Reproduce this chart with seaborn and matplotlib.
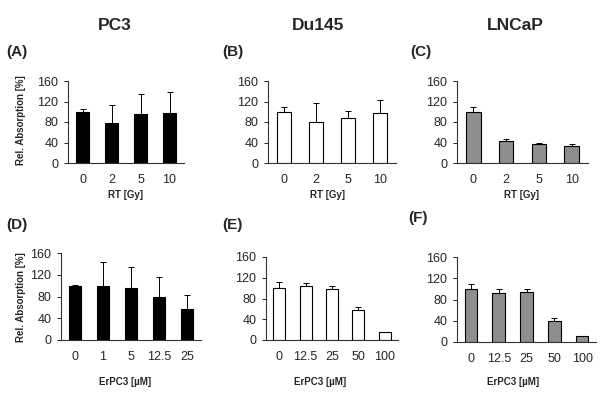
import numpy as np
import pandas as pd
import matplotlib
matplotlib.use("Agg")
import matplotlib.pyplot as plt
import seaborn as sns

sns.set_style("white")
plt.rcParams['font.family'] = ['Liberation Sans', 'DejaVu Sans']

# data (bar height and upper error)
rt_doses = ["0", "2", "5", "10"]
pc3_rt = [100, 78, 95, 97]
pc3_rt_err = [6, 35, 39, 42]
du145_rt = [100, 80, 88, 97]
du145_rt_err = [10, 37, 14, 26]
lncap_rt = [100, 43, 38, 34]
lncap_rt_err = [9, 3, 2, 4]

pc3_conc = ["0", "1", "5", "12.5", "25"]
pc3_er = [100, 100, 95, 80, 57]
pc3_er_err = [2, 43, 40, 36, 25]
conc = ["0", "12.5", "25", "50", "100"]
du145_er = [100, 105, 98, 57, 15]
du145_er_err = [11, 4, 6, 7, 0]
lncap_er = [100, 93, 95, 40, 12]
lncap_er_err = [10, 7, 4, 6, 0]

cell_lines = ["PC3", "Du145", "LNCaP"]
panel_tags = ["(A)", "(B)", "(C)", "(D)", "(E)", "(F)"]
colors = ["black", "white", "#8e8e8e"]

W, H = 600, 405
fig = plt.figure(figsize=(6, 4.05), dpi=100)

def box(x0, x1, ytop, ybot):
    return [x0 / W, 1 - ybot / H, (x1 - x0) / W, (ybot - ytop) / H]

panels = [
    (box(68, 184, 81, 163), rt_doses, pc3_rt, pc3_rt_err, 0),
    (box(268, 396, 81, 163), rt_doses, du145_rt, du145_rt_err, 1),
    (box(457, 588, 81, 163), rt_doses, lncap_rt, lncap_rt_err, 2),
    (box(61, 201, 253, 340), pc3_conc, pc3_er, pc3_er_err, 0),
    (box(266, 398, 257, 340), conc, du145_er, du145_er_err, 1),
    (box(457, 596, 257, 342), conc, lncap_er, lncap_er_err, 2),
]

for rect, cats, vals, errs, ci in panels:
    ax = fig.add_axes(rect)
    df = pd.DataFrame({"cat": cats, "val": vals})
    sns.barplot(data=df, x="cat", y="val", ax=ax, color=colors[ci],
                edgecolor="black", linewidth=0.8, width=0.45, saturation=1)
    xs = np.arange(len(cats))
    ax.errorbar(xs, vals, yerr=[np.zeros(len(errs)), errs], fmt="none",
                ecolor="black", elinewidth=0.7, capsize=2, capthick=0.7)
    ax.set_ylim(0, 160)
    ax.set_xlim(-0.5, len(cats) - 0.5)
    ax.set_yticks([0, 40, 80, 120, 160])
    ax.set_xticks(np.arange(len(cats) + 1) - 0.5, minor=True)
    ax.tick_params(axis="x", which="major", length=0, pad=8, labelsize=9)
    ax.tick_params(axis="x", which="minor", length=3, width=0.7, direction="out")
    ax.tick_params(axis="y", length=3, width=0.7, direction="out", pad=4,
                   labelsize=9, left=True)
    sns.despine(ax=ax)
    for s in ["left", "bottom"]:
        ax.spines[s].set_linewidth(0.8)
        ax.spines[s].set_color("#333333")
    ax.set_xlabel("")
    ax.set_ylabel("")

# titles, panel tags, axis labels
for x, name in zip([115, 318, 515], cell_lines):
    fig.text(x / W, 1 - 25 / H, name, ha="center", va="center",
             fontsize=12.5, fontweight="bold")
tag_pos = [(6, 52), (222, 52), (410, 52), (6, 225), (222, 225), (408, 218)]
for (x, y), t in zip(tag_pos, panel_tags):
    fig.text(x / W, 1 - y / H, t, ha="left", va="center",
             fontsize=11, fontweight="bold")
for x in [125, 328, 521]:
    fig.text(x / W, 1 - 195 / H, "RT [Gy]", ha="center", va="center",
             fontsize=7, fontweight="bold")
for x in [125, 320, 513]:
    fig.text(x / W, 1 - 382 / H, "ErPC3 [µM]", ha="center", va="center",
             fontsize=7, fontweight="bold")
for y in [120, 297]:
    fig.text(21 / W, 1 - y / H, "Rel. Absorption [%]", ha="center",
             va="center", rotation=90, fontsize=7, fontweight="bold")

fig.savefig("out.png", dpi=100)
